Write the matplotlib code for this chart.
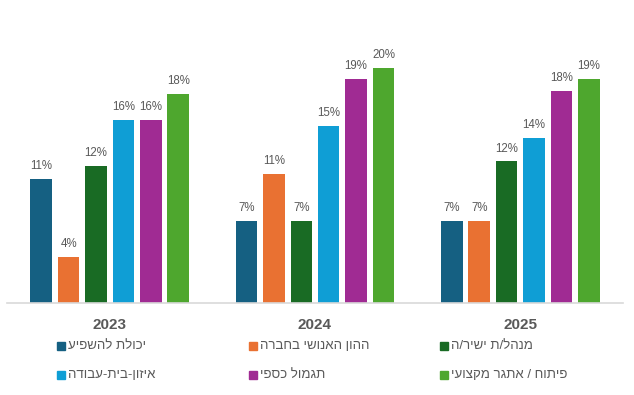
from matplotlib import pyplot as plt
from matplotlib.patches import Rectangle
import numpy as np

plt.rcParams['font.family'] = ['Liberation Sans', 'DejaVu Sans']

years = ['2023', '2024', '2025']
series_names = ['יכולת להשפיע', 'ההון האנושי בחברה', 'מנהל/ת ישיר/ה',
                'איזון-בית-עבודה', 'תגמול כספי', 'פיתוח / אתגר מקצועי']
colors = ['#156082', '#E97132', '#196B24', '#0F9ED5', '#A02B93', '#4EA72E']

# values per series, one per year
influence = [10.7, 7.1, 7.1]
human_capital = [4.0, 11.1, 7.1]
manager = [11.8, 7.1, 12.2]
work_life = [15.8, 15.3, 14.2]
pay = [15.8, 19.3, 18.3]
growth = [18.0, 20.3, 19.3]
values = [influence, human_capital, manager, work_life, pay, growth]

GRAY = '#595959'


def rtl(s):
    # matplotlib has no bidi support, so flip Hebrew to visual order
    return s[::-1]


def main():
    W, H = 634, 395
    fig = plt.figure(figsize=(W / 100, H / 100), dpi=100)
    base_y = 303
    top_y = 10
    ax = fig.add_axes([7 / W, (H - base_y) / H, 616 / W, (base_y - top_y) / H])

    x = np.arange(len(years))
    pitch = 0.1334
    width = 0.105
    for i, vals in enumerate(values):
        pos = x + (i - 2.5) * pitch
        bars = ax.bar(pos, vals, width, color=colors[i])
        for b, v in zip(bars, vals):
            ax.annotate('%.0f%%' % v, (b.get_x() + b.get_width() / 2, v),
                        xytext=(0, 5), textcoords='offset points',
                        ha='center', va='bottom', fontsize=8.3, color=GRAY)

    ax.set_xlim(-0.5, 2.5)
    ax.set_ylim(0, (base_y - top_y) / 11.6)
    ax.set_xticks(x)
    ax.set_xticklabels(years, fontsize=11, fontweight='bold', color=GRAY)
    ax.tick_params(axis='x', length=0, pad=11)
    ax.set_yticks([])
    for s in ['top', 'left', 'right']:
        ax.spines[s].set_visible(False)
    ax.spines['bottom'].set_color('#d9d9d9')
    ax.spines['bottom'].set_linewidth(1.2)

    # legend: 3 columns x 2 rows, drawn by hand
    col_x = [57, 249, 440]
    row_y = [346, 375]
    sq = 8
    for i, name in enumerate(series_names):
        cx = col_x[i % 3]
        cy = row_y[i // 3]
        fig.add_artist(Rectangle((cx / W, (H - cy - sq / 2) / H), sq / W, sq / H,
                                 transform=fig.transFigure, color=colors[i]))
        fig.text((cx + sq + 3) / W, (H - cy) / H, rtl(name), fontsize=9.5,
                 color=GRAY, ha='left', va='center')

    fig.savefig('out.png', dpi=100)


if __name__ == '__main__':
    main()
